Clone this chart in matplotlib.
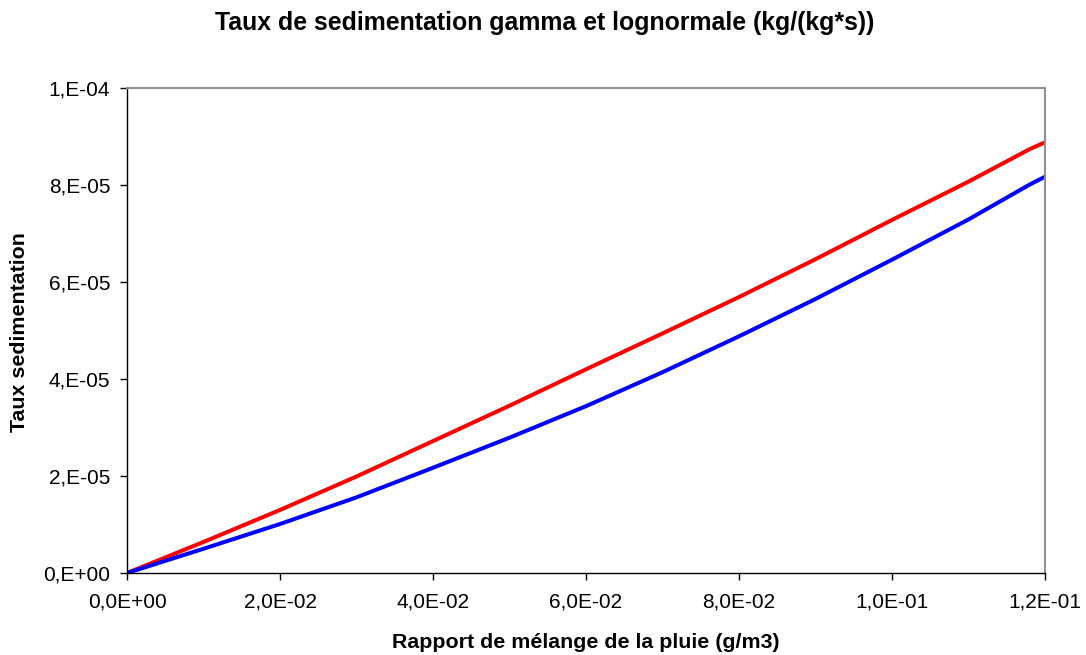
import matplotlib
matplotlib.use("Agg")
import matplotlib.pyplot as plt

plt.rcParams['font.family'] = ['Liberation Sans', 'DejaVu Sans']

# Rain mixing ratio (g/m3)
rain_mix = [0.0, 0.01, 0.02, 0.03, 0.04, 0.05, 0.06, 0.07, 0.08, 0.09, 0.10, 0.11, 0.118, 0.12]
# Sedimentation rate, gamma distribution (red) and lognormal distribution (blue)
sed_gamma = [0.0, 0.64e-5, 1.30e-5, 1.99e-5, 2.72e-5, 3.45e-5, 4.20e-5, 4.94e-5,
             5.69e-5, 6.47e-5, 7.28e-5, 8.07e-5, 8.74e-5, 8.88e-5]
sed_lognormal = [0.0, 0.50e-5, 1.01e-5, 1.56e-5, 2.17e-5, 2.79e-5, 3.44e-5, 4.14e-5,
                 4.88e-5, 5.65e-5, 6.46e-5, 7.29e-5, 8.01e-5, 8.17e-5]

x_ticks = [0.0, 0.02, 0.04, 0.06, 0.08, 0.10, 0.12]
x_tick_labels = ["0,0E+00", "2,0E-02", "4,0E-02", "6,0E-02", "8,0E-02", "1,0E-01", "1,2E-01"]
y_ticks = [0.0, 2e-5, 4e-5, 6e-5, 8e-5, 1e-4]
y_tick_labels = ["0,E+00", "2,E-05", "4,E-05", "6,E-05", "8,E-05", "1,E-04"]

fig = plt.figure(figsize=(10.86, 6.55), dpi=100)
ax = fig.add_axes([127 / 1086, 1 - 573 / 655, (1045 - 127) / 1086, (573 - 88) / 655])

ax.plot(rain_mix, sed_gamma, color="#FF0000", linewidth=2.9, solid_capstyle="butt")
ax.plot(rain_mix, sed_lognormal, color="#0000FF", linewidth=2.9, solid_capstyle="butt")

ax.set_xlim(0, 0.12)
ax.set_ylim(0, 1e-4)
ax.set_xticks(x_ticks)
ax.set_xticklabels(x_tick_labels)
ax.set_yticks(y_ticks)
ax.set_yticklabels(y_tick_labels)
ax.tick_params(direction="out", length=5, width=1, labelsize=15, colors="black")
ax.tick_params(axis="x", pad=9)
ax.tick_params(axis="y", pad=7)

for side in ("left", "bottom"):
    ax.spines[side].set_color("black")
    ax.spines[side].set_linewidth(1)
for side in ("top", "right"):
    ax.spines[side].set_color("#909090")
    ax.spines[side].set_linewidth(1.5)

fig.text(544.5 / 1086, 1 - 23 / 655, "Taux de sedimentation gamma et lognormale (kg/(kg*s))",
         ha="center", va="center", fontsize=17.9, fontweight="bold")
fig.text(586 / 1086, 1 - 642 / 655, "Rapport de mélange de la pluie (g/m3)",
         ha="center", va="center", fontsize=15.4, fontweight="bold")
fig.text(20 / 1086, 1 - 332.5 / 655, "Taux sedimentation", rotation=90,
         ha="center", va="center", fontsize=15.4, fontweight="bold")

fig.savefig("out.png", dpi=100, facecolor="white")
